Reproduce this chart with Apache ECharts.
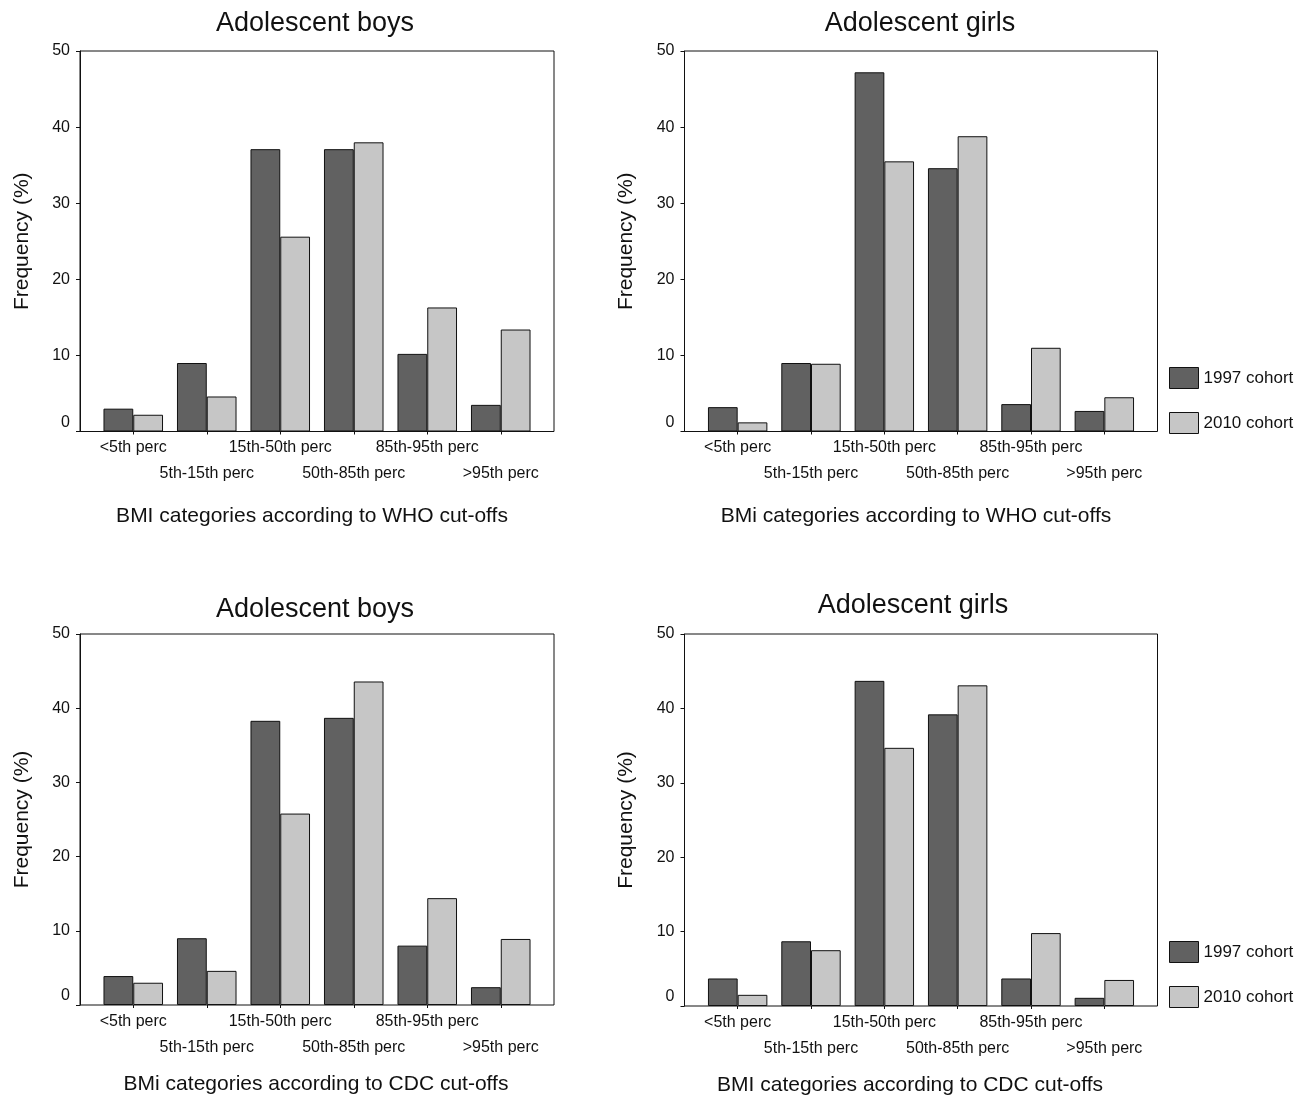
<!DOCTYPE html>
<html>
<head>
<meta charset="utf-8">
<script src="https://cdn.jsdelivr.net/npm/echarts@6/dist/echarts.min.js"></script>
<style>
html,body{margin:0;padding:0;background:#fff;}
#chart{width:1294px;height:1095px;}
</style>
</head>
<body>
<div id="chart"></div>
<script>
// ---- data ----
const categories = ['<5th perc','5th-15th perc','15th-50th perc','50th-85th perc','85th-95th perc','>95th perc'];
const seriesNames = ['1997 cohort','2010 cohort'];
const whoBoys1997 = [3.0, 9.0, 37.1, 37.1, 10.2, 3.5];
const whoBoys2010 = [2.2, 4.6, 25.6, 38.0, 16.3, 13.4];
const whoGirls1997 = [3.2, 9.0, 47.2, 34.6, 3.6, 2.7];
const whoGirls2010 = [1.2, 8.9, 35.5, 38.8, 11.0, 4.5];
const cdcBoys1997 = [3.9, 9.0, 38.3, 38.7, 8.0, 2.4];
const cdcBoys2010 = [3.0, 4.6, 25.8, 43.6, 14.4, 8.9];
const cdcGirls1997 = [3.7, 8.7, 43.7, 39.2, 3.7, 1.1];
const cdcGirls2010 = [1.5, 7.5, 34.7, 43.1, 9.8, 3.5];
const yMin = 0, yMax = 50, yInterval = 10;
const panelTitles = ['Adolescent boys','Adolescent girls','Adolescent boys','Adolescent girls'];
const xTitles = ['BMI categories according to WHO cut-offs','BMi categories according to WHO cut-offs',
                 'BMi categories according to CDC cut-offs','BMI categories according to CDC cut-offs'];
const yTitle = 'Frequency (%)';

// ---- layout ----
const FONT = '"Liberation Sans", Arial, sans-serif';
const DARK = '#616161', LIGHT = '#c6c6c6', INK = '#111111';
const inset = 16.5;
const layout = [
  {left:80,  top:51,  width:474,   height:380.5, tx:315, ty:24,  nx:312, ny:516,  yx:22},
  {left:684.5, top:51, width:473, height:380.5, tx:920, ty:24,  nx:916, ny:516,  yx:626.5},
  {left:80,  top:634, width:474,   height:371,   tx:315, ty:610, nx:316, ny:1084, yx:22},
  {left:684.5, top:634, width:473, height:372,   tx:913, ty:606, nx:910, ny:1085, yx:626.5}
];
const data1997 = [whoBoys1997, whoGirls1997, cdcBoys1997, cdcGirls1997];
const data2010 = [whoBoys2010, whoGirls2010, cdcBoys2010, cdcGirls2010];

const grid = [], xAxis = [], yAxis = [], series = [], graphic = [];
layout.forEach((p, i) => {
  const fi = grid.length;
  grid.push({left:p.left, top:p.top, width:p.width, height:p.height, show:true,
             borderColor:INK, borderWidth:1, backgroundColor:'transparent', containLabel:false});
  xAxis.push({type:'value', gridIndex:fi, show:false, min:0, max:1});
  yAxis.push({type:'value', gridIndex:fi, min:yMin, max:yMax, interval:yInterval,
    axisLine:{show:true, lineStyle:{color:INK, width:1}},
    axisTick:{show:true, length:4, lineStyle:{color:INK}},
    splitLine:{show:false},
    axisLabel:{margin:10, color:INK, fontSize:16, fontFamily:FONT,
      formatter: v => v === 0 ? '{z|0}' : String(v),
      rich:{z:{padding:[0,0,18,0], fontSize:16, fontFamily:FONT, color:INK}}}
  });
  const bi = grid.length;
  grid.push({left:p.left + inset, top:p.top, width:p.width - 2*inset, height:p.height, show:false});
  xAxis.push({type:'category', gridIndex:bi, data:categories, boundaryGap:true,
    axisLine:{show:false},
    axisTick:{show:true, alignWithLabel:true, length:3, lineStyle:{color:INK}},
    axisLabel:{interval:0, margin:3.5, lineHeight:26, color:INK, fontSize:16, fontFamily:FONT,
      formatter:(v, idx) => (idx % 2 === 1 ? '\n' + v : v)}
  });
  yAxis.push({type:'value', gridIndex:bi, min:yMin, max:yMax, interval:yInterval, show:false});
  series.push({name:seriesNames[0], type:'bar', xAxisIndex:bi, yAxisIndex:bi, data:data1997[i],
    barGap:'0%', barCategoryGap:'19%', itemStyle:{color:DARK, borderColor:INK, borderWidth:1}});
  series.push({name:seriesNames[1], type:'bar', xAxisIndex:bi, yAxisIndex:bi, data:data2010[i],
    barGap:'0%', barCategoryGap:'19%', itemStyle:{color:LIGHT, borderColor:INK, borderWidth:1}});
  graphic.push({type:'text', x:p.tx, y:p.ty, style:{text:panelTitles[i], fontSize:27, fontFamily:FONT,
    fill:INK, align:'center', verticalAlign:'middle'}});
  graphic.push({type:'text', x:p.nx, y:p.ny, style:{text:xTitles[i], fontSize:21, fontFamily:FONT,
    fill:INK, align:'center', verticalAlign:'middle'}});
  graphic.push({type:'text', x:p.yx, y:p.top + p.height/2, rotation:Math.PI/2,
    style:{text:yTitle, fontSize:21, fontFamily:FONT, fill:INK, align:'center', verticalAlign:'middle'}});
});

const legendBase = {orient:'vertical', left:1169, itemWidth:29, itemHeight:21, itemGap:23, padding:0,
  icon:'rect', selectedMode:false, data:seriesNames,
  itemStyle:{borderWidth:1, borderColor:INK},
  textStyle:{fontSize:17, fontFamily:FONT, color:INK}};

const chart = echarts.init(document.getElementById('chart'), null, {renderer:'canvas'});
chart.setOption({
  backgroundColor:'#ffffff',
  animation:false,
  textStyle:{fontFamily:FONT},
  grid, xAxis, yAxis, series, graphic,
  legend:[Object.assign({}, legendBase, {top:367}), Object.assign({}, legendBase, {top:941})]
});
</script>
</body>
</html>
